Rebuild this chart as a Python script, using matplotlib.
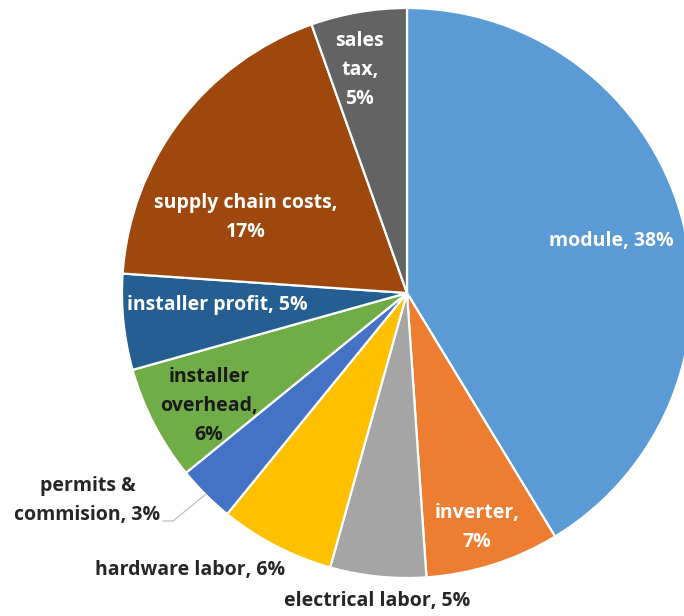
import numpy as np
from matplotlib import pyplot as plt

# residential PV cost breakdown
labels = ['module', 'inverter', 'electrical labor', 'hardware labor',
          'permits &\ncommision', 'installer\noverhead', 'installer profit',
          'supply chain costs', 'sales\ntax']
shares = [38, 7, 5, 6, 3, 6, 5, 17, 5]
# how each label joins its value
seps = [', ', ',\n', ', ', ', ', ', ', ',\n', ', ', ',\n', ',\n']

colors = ['#5B9BD5', '#ED7D31', '#A5A5A5', '#FFC000', '#4472C4',
          '#70AD47', '#255E91', '#9E480E', '#636363']
text_colors = ['white', 'white', '#262626', '#262626', '#262626',
               '#1a1a1a', 'white', 'white', 'white']
# label placement: radius (1 = rim) and angular nudge (deg, clockwise)
label_r = [0.74, 0.86, 1.085, 1.235, 1.337, 0.80, 0.668, 0.625, 0.80]
label_shift = [1.5, 1.0, -0.3, 10.6, 12.0, -2.2, 2.3, -12.0, -2.2]

plt.rcParams['font.family'] = ['Open Sans', 'DejaVu Sans']

fig = plt.figure(figsize=(6.84, 6.16), dpi=100)
ax = fig.add_axes([0, 0, 1, 1])

R = 285.0  # pie radius in pixels
cx, cy = 407.0, 293.0

wedges, _ = ax.pie(shares, colors=colors, startangle=90, counterclock=False,
                   wedgeprops=dict(edgecolor='white', linewidth=1.6),
                   frame=False)
ax.set_xlim(-cx / R, (684 - cx) / R)
ax.set_ylim(-(616 - cy) / R, cy / R)
ax.set_aspect('auto')
ax.axis('off')

for w, lab, v, sep, tc, r, sh in zip(wedges, labels, shares, seps,
                                     text_colors, label_r, label_shift):
    mid = np.deg2rad((w.theta1 + w.theta2) / 2 - sh)
    x, y = r * np.cos(mid), r * np.sin(mid)
    ax.text(x, y, f'{lab}{sep}{v}%', ha='center', va='center',
            fontsize=14, fontweight='bold', color=tc, linespacing=1.6)

# leader line for the small permits slice
w = wedges[4]
mid = np.deg2rad((w.theta1 + w.theta2) / 2)
rim = (np.cos(mid), np.sin(mid))
ax.plot([rim[0], -0.821, -0.855], [rim[1], -0.80, -0.80],
        color='#BFBFBF', lw=0.9)

fig.savefig('out.png', dpi=100)
